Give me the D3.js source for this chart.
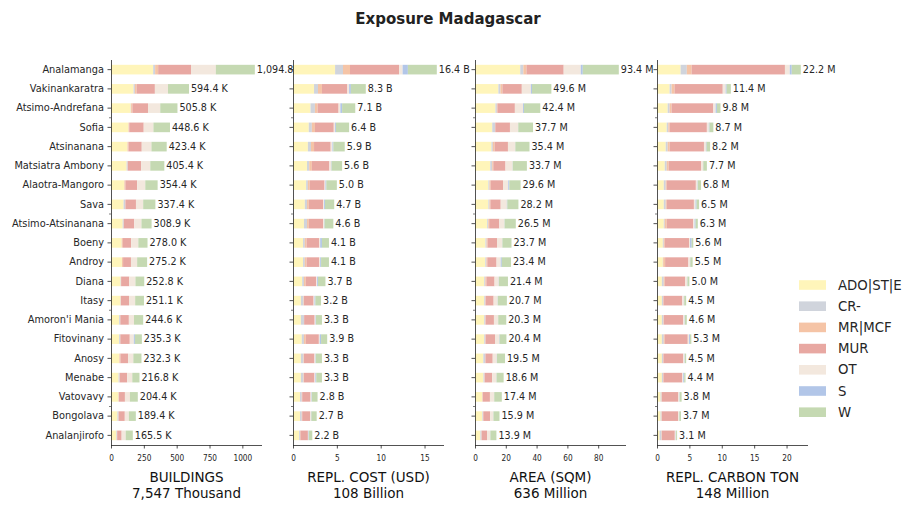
<!DOCTYPE html>
<html>
<head>
<meta charset="utf-8">
<script src="https://cdn.jsdelivr.net/npm/d3@7"></script>
<style>
  body { margin: 0; background: #fff; }
  svg { font-family: "DejaVu Sans", sans-serif; }
</style>
</head>
<body>
<svg id="chart" width="919" height="510"></svg>
<script>
// regions, top to bottom
var regions = ["Analamanga", "Vakinankaratra", "Atsimo-Andrefana", "Sofia", "Atsinanana",
  "Matsiatra Ambony", "Alaotra-Mangoro", "Sava", "Atsimo-Atsinanana", "Boeny", "Androy",
  "Diana", "Itasy", "Amoron'i Mania", "Fitovinany", "Anosy", "Menabe", "Vatovavy",
  "Bongolava", "Analanjirofo"];

var keys = ["ADO|ST|E", "CR-", "MR|MCF", "MUR", "OT", "S", "W"];
var colors = ["#fff5ba", "#d0d4dc", "#f5c4a6", "#e8a8a2", "#f3e8de", "#b2c6e8", "#c5d9b2"];

// each row: ADO|ST|E, CR-, MR|MCF, MUR, OT, S, W
var buildings = [ // thousand
  [321, 15, 23, 250, 189, 0, 297], [172, 10, 13, 139, 100, 0, 160], [150, 3, 10, 119, 93, 0, 131],
  [133, 1, 5, 110, 74, 0, 126], [125, 1, 8, 100, 74, 0, 116], [119, 8, 1, 101, 70, 0, 107],
  [101, 1, 8, 89, 62, 0, 94], [96, 13, 1, 80, 55, 0, 93], [89, 8, 1, 79, 55, 0, 77],
  [81, 1, 8, 63, 55, 0, 70], [83, 1, 8, 60, 47, 0, 76], [73, 3, 1, 62, 47, 0, 67],
  [72, 2, 1, 62, 47, 0, 67], [62, 8, 1, 65, 39, 0, 70], [62, 8, 1, 72, 31, 8, 53],
  [63, 1, 8, 58, 40, 0, 62], [58, 8, 1, 56, 39, 0, 55], [57, 1, 1, 47, 38, 0, 60],
  [49, 8, 1, 47, 31, 0, 53], [41, 5, 1, 34, 31, 0, 54]];
var cost = [ // billion USD
  [4.8, 0.9, 0.8, 5.6, 0.4, 0.6, 3.3], [2.4, 0.45, 0.45, 2.9, 0.2, 0.2, 1.7], [2.0, 0.5, 0.3, 2.4, 0.2, 0.2, 1.5],
  [1.8, 0.35, 0.35, 2.15, 0.15, 0.1, 1.5], [1.7, 0.35, 0.35, 1.9, 0.2, 0.1, 1.3], [1.6, 0.25, 0.3, 2.0, 0.2, 0.05, 1.2],
  [1.5, 0.2, 0.2, 1.7, 0.1, 0.1, 1.2], [1.35, 0.25, 0.2, 1.65, 0.1, 0.1, 1.05], [1.25, 0.35, 0.2, 1.65, 0.1, 0.05, 1.0],
  [1.15, 0.2, 0.2, 1.45, 0.1, 0.2, 0.8], [1.15, 0.2, 0.2, 1.45, 0.1, 0.1, 0.9], [1.05, 0.2, 0.2, 1.2, 0.1, 0.1, 0.85],
  [0.9, 0.3, 0.05, 1.1, 0.1, 0.1, 0.65], [0.9, 0.35, 0.02, 1.2, 0.1, 0.05, 0.68], [1.0, 0.25, 0.2, 1.5, 0.1, 0.15, 0.7],
  [0.9, 0.3, 0.05, 1.2, 0.1, 0.05, 0.7], [0.9, 0.3, 0.05, 1.2, 0.1, 0.1, 0.65], [0.8, 0.2, 0.05, 0.95, 0.1, 0.05, 0.65],
  [0.8, 0.2, 0.05, 0.9, 0.1, 0.05, 0.6], [0.7, 0.1, 0.05, 0.85, 0.05, 0.05, 0.4]];
var area = [ // million sqm
  [29.4, 2.0, 2.0, 24.2, 11.1, 1.3, 23.4], [15.2, 1.3, 1.3, 12.6, 5.9, 0.7, 12.6], [13.3, 0.9, 0.4, 11.3, 5.3, 0.6, 10.6],
  [11.2, 1.8, 0.2, 9.5, 5.3, 0.1, 9.6], [10.7, 0.9, 1.1, 8.7, 4.7, 0.1, 9.2], [9.9, 1.3, 0.7, 7.9, 4.6, 0.1, 9.2],
  [8.7, 0.7, 0.7, 8.1, 3.4, 0.7, 7.3], [8.7, 0.7, 0.6, 6.7, 4.0, 0.3, 7.2], [7.9, 0.7, 0.6, 6.6, 3.3, 0.1, 7.3],
  [6.8, 0.7, 0.7, 6.1, 3.4, 0.1, 5.9], [6.7, 0.7, 0.6, 6.0, 2.7, 0.7, 6.0], [6.0, 0.7, 0.7, 5.3, 2.7, 0.1, 5.9],
  [6.0, 0.7, 0.2, 5.2, 2.6, 0.1, 5.9], [6.0, 0.7, 0.2, 5.4, 2.7, 0.1, 5.2], [6.0, 0.7, 0.2, 6.1, 2.7, 0.3, 4.4],
  [5.4, 1.3, 0.1, 4.7, 2.7, 0.1, 5.2], [5.5, 0.7, 0.1, 4.8, 2.8, 0.1, 4.6], [4.7, 0.1, 0.2, 4.7, 2.7, 0.1, 4.9],
  [4.8, 0.5, 0.1, 4.4, 2.1, 0.1, 3.9], [3.5, 0.7, 0.1, 3.5, 2.1, 0.1, 3.9]];
var carbon = [ // million ton
  [3.65, 0.95, 0.75, 14.4, 0.75, 0.3, 1.4], [1.95, 0.3, 0.45, 7.45, 0.45, 0.15, 0.65], [1.65, 0.3, 0.3, 6.45, 0.35, 0.2, 0.55],
  [1.5, 0.25, 0.2, 5.75, 0.3, 0.1, 0.6], [1.35, 0.3, 0.3, 5.3, 0.3, 0.1, 0.55], [1.2, 0.3, 0.3, 5.0, 0.3, 0.05, 0.55],
  [1.05, 0.3, 0.15, 4.5, 0.25, 0.05, 0.5], [1.05, 0.3, 0.15, 4.2, 0.25, 0.15, 0.4], [1.05, 0.15, 0.3, 4.1, 0.2, 0.15, 0.35],
  [0.9, 0.15, 0.15, 3.75, 0.15, 0.25, 0.25], [0.9, 0.05, 0.3, 3.6, 0.25, 0.05, 0.35], [0.75, 0.3, 0.15, 3.15, 0.3, 0.05, 0.3],
  [0.75, 0.2, 0.05, 2.9, 0.25, 0.05, 0.3], [0.75, 0.25, 0.05, 3.0, 0.2, 0.05, 0.3], [0.75, 0.3, 0.15, 3.55, 0.2, 0.15, 0.2],
  [0.75, 0.2, 0.05, 3.05, 0.2, 0.05, 0.2], [0.75, 0.2, 0.05, 2.9, 0.15, 0.15, 0.2], [0.55, 0.15, 0.05, 2.55, 0.15, 0.05, 0.3],
  [0.55, 0.15, 0.05, 2.5, 0.15, 0.05, 0.25], [0.4, 0.3, 0.05, 2.0, 0.15, 0.05, 0.15]];

// labels at bar ends
var buildingsTotal = [1094.8, 594.4, 505.8, 448.6, 423.4, 405.4, 354.4, 337.4, 308.9, 278.0, 275.2, 252.8, 251.1, 244.6, 235.3, 232.3, 216.8, 204.4, 189.4, 165.5];
var costTotal = [16.4, 8.3, 7.1, 6.4, 5.9, 5.6, 5.0, 4.7, 4.6, 4.1, 4.1, 3.7, 3.2, 3.3, 3.9, 3.3, 3.3, 2.8, 2.7, 2.2];
var areaTotal = [93.4, 49.6, 42.4, 37.7, 35.4, 33.7, 29.6, 28.2, 26.5, 23.7, 23.4, 21.4, 20.7, 20.3, 20.4, 19.5, 18.6, 17.4, 15.9, 13.9];
var carbonTotal = [22.2, 11.4, 9.8, 8.7, 8.2, 7.7, 6.8, 6.5, 6.3, 5.6, 5.5, 5.0, 4.5, 4.6, 5.3, 4.5, 4.4, 3.8, 3.7, 3.1];

var buildingsTicks = [0, 250, 500, 750, 1000];
var costTicks = [0, 5, 10, 15];
var areaTicks = [0, 20, 40, 60, 80];
var carbonTicks = [0, 5, 10, 15, 20];

var titles = [["BUILDINGS", "7,547 Thousand"], ["REPL. COST (USD)", "108 Billion"],
  ["AREA (SQM)", "636 Million"], ["REPL. CARBON TON", "148 Million"]];

var panels = [
  { rows: buildings, totals: buildingsTotal, ticks: buildingsTicks, fmt: function(v){ return d3.format(",.1f")(v) + " K"; } },
  { rows: cost, totals: costTotal, ticks: costTicks, fmt: function(v){ return v.toFixed(1) + " B"; } },
  { rows: area, totals: areaTotal, ticks: areaTicks, fmt: function(v){ return v.toFixed(1) + " M"; } },
  { rows: carbon, totals: carbonTotal, ticks: carbonTicks, fmt: function(v){ return v.toFixed(1) + " M"; } }
];

var ink = "#262626";
var svg = d3.select("#chart");
var axTop = 60, axBottom = 445, panelW = 151;
var panelX = [111, 293, 475, 657];

svg.append("text")
   .attr("x", 448).attr("y", 24)
   .attr("text-anchor", "middle")
   .attr("font-size", 15).attr("font-weight", "bold")
   .attr("fill", "#222")
   .text("Exposure Madagascar");

var y = d3.scaleBand().domain(regions).range([axTop, axBottom]).paddingInner(0.5).paddingOuter(0.25);
var minorY = d3.scaleLinear().domain([-0.5, regions.length - 0.5]).range([axTop, axBottom]);

panels.forEach(function(p, pi){
  var x0 = panelX[pi];
  var g = svg.append("g").attr("transform", "translate(" + x0 + ",0)");

  // white axes patch, hides overflow labels of the previous panel
  g.append("rect").attr("x", 0).attr("y", axTop).attr("width", panelW).attr("height", axBottom - axTop).attr("fill", "#fff");

  var x = d3.scaleLinear().domain([0, d3.max(p.totals) * 1.05]).range([0, panelW]);

  var table = p.rows.map(function(r, i){
    var o = { region: regions[i] };
    keys.forEach(function(k, j){ o[k] = r[j]; });
    return o;
  });
  var stacked = d3.stack().keys(keys)(table);

  g.selectAll("g.series")
   .data(stacked)
   .join("g")
   .attr("class", "series")
   .attr("fill", function(d, i){ return colors[i]; })
   .selectAll("rect")
   .data(function(d){ return d; })
   .join("rect")
   .attr("x", function(d){ return x(d[0]); })
   .attr("width", function(d){ return Math.max(0, x(d[1]) - x(d[0])); })
   .attr("y", function(d){ return y(d.data.region); })
   .attr("height", y.bandwidth());

  g.selectAll("text.lbl")
   .data(p.totals)
   .join("text")
   .attr("class", "lbl")
   .attr("x", function(d, i){ return x(d3.sum(p.rows[i])) + 2; })
   .attr("y", function(d, i){ return y(regions[i]) + y.bandwidth() / 2; })
   .attr("dy", "0.35em")
   .attr("font-size", 9.6)
   .attr("fill", ink)
   .text(function(d){ return p.fmt(d); });

  // y axis
  var yAxis = g.append("g").call(d3.axisLeft(y).tickSize(3.5).tickPadding(3.5)
                .tickFormat(pi === 0 ? null : function(){ return ""; }));
  yAxis.selectAll("text").attr("font-size", 9.8).attr("fill", ink).attr("font-family", "DejaVu Sans");
  yAxis.selectAll("line").attr("stroke", ink).attr("stroke-width", 0.8);
  yAxis.select(".domain").attr("stroke", ink).attr("stroke-width", 0.8).attr("d", "M0.5," + axTop + "V" + axBottom);

  g.selectAll("line.minor")
   .data([2.5, 7.5, 12.5, 17.5])
   .join("line")
   .attr("class", "minor")
   .attr("x1", -2).attr("x2", 0)
   .attr("y1", function(d){ return minorY(d); })
   .attr("y2", function(d){ return minorY(d); })
   .attr("stroke", ink).attr("stroke-width", 0.6);

  // x axis
  var xAxis = g.append("g").attr("transform", "translate(0," + axBottom + ")")
               .call(d3.axisBottom(x).tickValues(p.ticks).tickSize(3.5).tickPadding(7)
                     .tickFormat(d3.format("d")));
  xAxis.selectAll("text").attr("font-size", 8.2).attr("fill", ink)
       .attr("font-family", "DejaVu Sans").style("font-stretch", "condensed");
  xAxis.selectAll("line").attr("stroke", ink).attr("stroke-width", 0.8);
  xAxis.select(".domain").attr("stroke", ink).attr("stroke-width", 0.8).attr("d", "M0,0.5H" + panelW);

  var t = g.append("text").attr("text-anchor", "middle").attr("font-size", 13.5).attr("fill", "#111");
  t.append("tspan").attr("x", panelW / 2).attr("y", 482).text(titles[pi][0]);
  t.append("tspan").attr("x", panelW / 2).attr("y", 498).text(titles[pi][1]);
});

// legend
var leg = svg.append("g").attr("transform", "translate(799,285)");
var item = leg.selectAll("g").data(keys).join("g")
              .attr("transform", function(d, i){ return "translate(0," + (i * 21.2) + ")"; });
item.append("rect").attr("x", 0).attr("y", -4.8).attr("width", 27).attr("height", 9.6)
    .attr("fill", function(d, i){ return colors[i]; });
item.append("text").attr("x", 39).attr("y", 0).attr("dy", "0.35em")
    .attr("font-size", 13.3).attr("fill", ink)
    .text(function(d){ return d; });
</script>
</body>
</html>
